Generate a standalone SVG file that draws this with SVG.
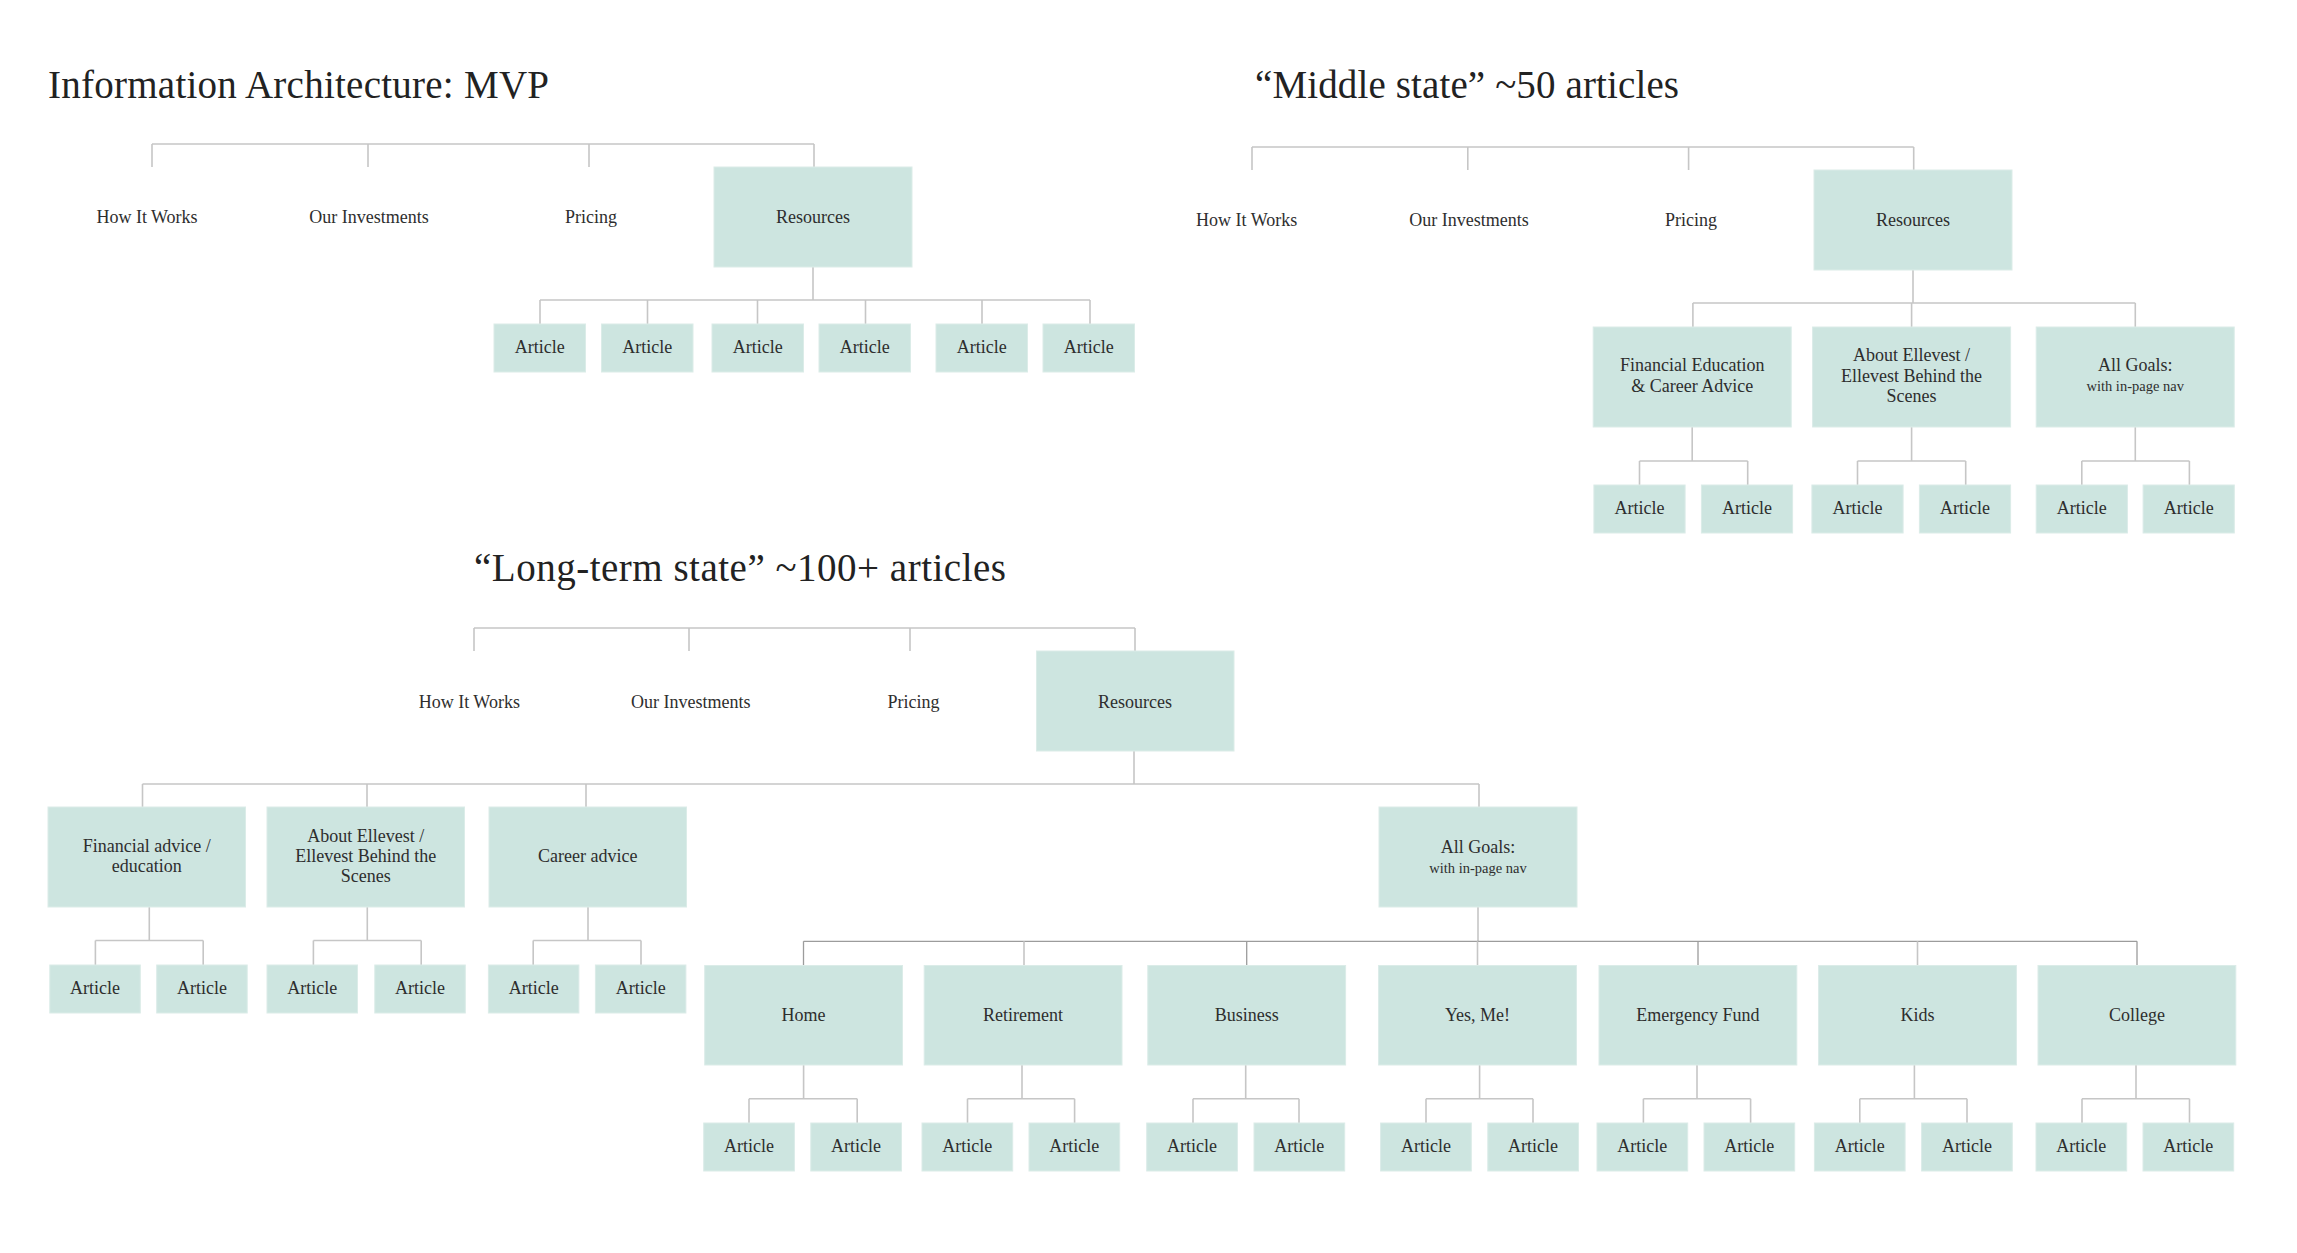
<svg xmlns="http://www.w3.org/2000/svg" width="2297" height="1253" viewBox="0 0 2297 1253">
<style>
.bg{fill:#ffffff}
.box{fill:#cde5e0;stroke:#dbece8;stroke-width:1}
.ln{fill:none;stroke:#c6c6c6;stroke-width:1.6}
.dk{fill:none;stroke:#9c9c9c;stroke-width:1.3}
.t{font-family:"Liberation Serif","Times New Roman",serif;font-size:18px;fill:#2e2e2e;text-anchor:middle}
.sm{font-size:14.5px}
.title{font-family:"Liberation Serif","Times New Roman",serif;font-size:39px;fill:#222222}
</style>
<rect class="bg" x="0" y="0" width="2297" height="1253"/>

<g id="titles">
<text class="title" x="48" y="98" textLength="501">Information Architecture: MVP</text>
<text class="title" x="1255" y="98" textLength="424">“Middle state” ~50 articles</text>
<text class="title" x="474" y="581" textLength="532">“Long-term state” ~100+ articles</text>
</g>

<g id="connectors">
<!-- MVP -->
<path class="ln" d="M152,144 H814 M152,144 V167 M368,144 V167 M589,144 V167 M814,144 V167"/>
<path class="ln" d="M813,267 V300 M540,300 H1090 M540,300 V324 M647.5,300 V324 M757.5,300 V324 M865.5,300 V324 M982,300 V324 M1090,300 V324"/>
<!-- Middle -->
<path class="ln" d="M1252,147 H1913.7 M1252,147 V170 M1467.8,147 V170 M1688.6,147 V170 M1913.7,147 V170"/>
<path class="ln" d="M1913,270 V303 M1692.9,303 H2135.3 M1692.9,303 V327 M1911.6,303 V327 M2135.3,303 V327"/>
<path class="ln" d="M1692.2,427 V461 M1639.5,461 H1747.7 M1639.5,461 V485 M1747.7,461 V485"/>
<path class="ln" d="M1911.6,427 V461 M1857.5,461 H1965.7 M1857.5,461 V485 M1965.7,461 V485"/>
<path class="ln" d="M2135.3,427 V461 M2081.8,461 H2189.4 M2081.8,461 V485 M2189.4,461 V485"/>
<!-- Long-term -->
<path class="ln" d="M474,628 H1135 M474,628 V651 M689,628 V651 M910,628 V651 M1135,628 V651"/>
<path class="ln" d="M1134,751 V784 M142.5,784 H1479 M142.5,784 V807 M367,784 V807 M586,784 V807 M1479,784 V807"/>
<path class="ln" d="M149.3,907 V940.5 M95.4,940.5 H203.2 M95.4,940.5 V965 M203.2,940.5 V965"/>
<path class="ln" d="M367.3,907 V940.5 M313.4,940.5 H421.2 M313.4,940.5 V965 M421.2,940.5 V965"/>
<path class="ln" d="M588,907 V940.5 M533.2,940.5 H641 M533.2,940.5 V965 M641,940.5 V965"/>
<path class="ln" d="M1478,907 V941.3"/>
<path class="dk" d="M803.5,941.3 H2137 M803.5,941.3 V965.5 M1246.7,941.3 V965.5 M1698,941.3 V965.5 M2137,941.3 V965.5"/>
<path class="ln" d="M1024,941.3 V965.5 M1477.5,941.3 V965.5 M1917.5,941.3 V965.5"/>
<path class="ln" d="M803.6,1065 V1098.7 M749,1098.7 H857.2 M749,1098.7 V1123 M857.2,1098.7 V1123"/>
<path class="ln" d="M1022,1065 V1098.7 M967.5,1098.7 H1074.6 M967.5,1098.7 V1123 M1074.6,1098.7 V1123"/>
<path class="ln" d="M1245.7,1065 V1098.7 M1193,1098.7 H1299 M1193,1098.7 V1123 M1299,1098.7 V1123"/>
<path class="ln" d="M1479.6,1065 V1098.7 M1426,1098.7 H1533 M1426,1098.7 V1123 M1533,1098.7 V1123"/>
<path class="ln" d="M1697,1065 V1098.7 M1643.4,1098.7 H1750.6 M1643.4,1098.7 V1123 M1750.6,1098.7 V1123"/>
<path class="ln" d="M1914.4,1065 V1098.7 M1859.8,1098.7 H1967 M1859.8,1098.7 V1123 M1967,1098.7 V1123"/>
<path class="ln" d="M2136,1065 V1098.7 M2082,1098.7 H2189.5 M2082,1098.7 V1123 M2189.5,1098.7 V1123"/>
</g>

<!-- ===== MVP ===== -->
<g id="mvp-how"><text class="t" x="147" y="223">How It Works</text></g>
<g id="mvp-inv"><text class="t" x="369" y="223">Our Investments</text></g>
<g id="mvp-pricing"><text class="t" x="591" y="223">Pricing</text></g>
<g id="mvp-resources"><rect class="box" x="714" y="167" width="198" height="100"/><text class="t" x="813" y="223">Resources</text></g>
<g id="mvp-a1"><rect class="box" x="494" y="324" width="91.5" height="48"/><text class="t" x="539.7" y="353">Article</text></g>
<g id="mvp-a2"><rect class="box" x="601.5" y="324" width="91.5" height="48"/><text class="t" x="647.2" y="353">Article</text></g>
<g id="mvp-a3"><rect class="box" x="712" y="324" width="91.5" height="48"/><text class="t" x="757.7" y="353">Article</text></g>
<g id="mvp-a4"><rect class="box" x="819" y="324" width="91.5" height="48"/><text class="t" x="864.7" y="353">Article</text></g>
<g id="mvp-a5"><rect class="box" x="936" y="324" width="91.5" height="48"/><text class="t" x="981.7" y="353">Article</text></g>
<g id="mvp-a6"><rect class="box" x="1043" y="324" width="91.5" height="48"/><text class="t" x="1088.7" y="353">Article</text></g>

<!-- ===== Middle ===== -->
<g id="mid-how"><text class="t" x="1246.6" y="226">How It Works</text></g>
<g id="mid-inv"><text class="t" x="1468.9" y="226">Our Investments</text></g>
<g id="mid-pricing"><text class="t" x="1691.1" y="226">Pricing</text></g>
<g id="mid-resources"><rect class="box" x="1814" y="170" width="198" height="100"/><text class="t" x="1913" y="226">Resources</text></g>
<g id="mid-fin"><rect class="box" x="1593.2" y="327" width="198" height="100"/><text class="t" x="1692.2" y="371">Financial Education</text><text class="t" x="1692.2" y="391.5">&amp; Career Advice</text></g>
<g id="mid-about"><rect class="box" x="1812.6" y="327" width="198" height="100"/><text class="t" x="1911.6" y="361">About Ellevest /</text><text class="t" x="1911.6" y="381.5">Ellevest Behind the</text><text class="t" x="1911.6" y="402">Scenes</text></g>
<g id="mid-goals"><rect class="box" x="2036.2" y="327" width="198" height="100"/><text class="t" x="2135.2" y="371">All Goals:</text><text class="t sm" x="2135.2" y="391">with in-page nav</text></g>
<g id="mid-a1"><rect class="box" x="1593.9" y="485" width="91.2" height="48"/><text class="t" x="1639.5" y="514">Article</text></g>
<g id="mid-a2"><rect class="box" x="1701.4" y="485" width="91.2" height="48"/><text class="t" x="1747" y="514">Article</text></g>
<g id="mid-a3"><rect class="box" x="1811.9" y="485" width="91.2" height="48"/><text class="t" x="1857.5" y="514">Article</text></g>
<g id="mid-a4"><rect class="box" x="1919.4" y="485" width="91.2" height="48"/><text class="t" x="1965" y="514">Article</text></g>
<g id="mid-a5"><rect class="box" x="2036.2" y="485" width="91.2" height="48"/><text class="t" x="2081.8" y="514">Article</text></g>
<g id="mid-a6"><rect class="box" x="2143.1" y="485" width="91.2" height="48"/><text class="t" x="2188.7" y="514">Article</text></g>

<!-- ===== Long-term ===== -->
<g id="lt-how"><text class="t" x="469.3" y="707.5">How It Works</text></g>
<g id="lt-inv"><text class="t" x="690.7" y="707.5">Our Investments</text></g>
<g id="lt-pricing"><text class="t" x="913.4" y="707.5">Pricing</text></g>
<g id="lt-resources"><rect class="box" x="1036.5" y="651" width="197.5" height="100"/><text class="t" x="1135" y="707.5">Resources</text></g>
<g id="lt-fin"><rect class="box" x="48" y="807" width="197.5" height="100"/><text class="t" x="146.7" y="852">Financial advice /</text><text class="t" x="146.7" y="872">education</text></g>
<g id="lt-about"><rect class="box" x="267" y="807" width="197.5" height="100"/><text class="t" x="365.7" y="842">About Ellevest /</text><text class="t" x="365.7" y="862">Ellevest Behind the</text><text class="t" x="365.7" y="882">Scenes</text></g>
<g id="lt-career"><rect class="box" x="489" y="807" width="197.5" height="100"/><text class="t" x="587.7" y="862">Career advice</text></g>
<g id="lt-goals"><rect class="box" x="1379" y="807" width="198" height="100"/><text class="t" x="1478" y="852.5">All Goals:</text><text class="t sm" x="1478" y="872.5">with in-page nav</text></g>
<g id="lt-fa1"><rect class="box" x="49.8" y="965" width="90.5" height="48"/><text class="t" x="95" y="994">Article</text></g>
<g id="lt-fa2"><rect class="box" x="156.7" y="965" width="90.5" height="48"/><text class="t" x="202" y="994">Article</text></g>
<g id="lt-ab1"><rect class="box" x="267" y="965" width="90.5" height="48"/><text class="t" x="312.3" y="994">Article</text></g>
<g id="lt-ab2"><rect class="box" x="374.8" y="965" width="90.5" height="48"/><text class="t" x="420" y="994">Article</text></g>
<g id="lt-ca1"><rect class="box" x="488.4" y="965" width="90.5" height="48"/><text class="t" x="533.7" y="994">Article</text></g>
<g id="lt-ca2"><rect class="box" x="595.4" y="965" width="90.5" height="48"/><text class="t" x="640.7" y="994">Article</text></g>

<g id="lt-home"><rect class="box" x="704.7" y="965.5" width="197.8" height="99.5"/><text class="t" x="803.6" y="1021">Home</text></g>
<g id="lt-retirement"><rect class="box" x="924.2" y="965.5" width="197.8" height="99.5"/><text class="t" x="1023.1" y="1021">Retirement</text></g>
<g id="lt-business"><rect class="box" x="1147.8" y="965.5" width="197.8" height="99.5"/><text class="t" x="1246.7" y="1021">Business</text></g>
<g id="lt-yesme"><rect class="box" x="1378.6" y="965.5" width="197.8" height="99.5"/><text class="t" x="1477.5" y="1021">Yes, Me!</text></g>
<g id="lt-emergency"><rect class="box" x="1599" y="965.5" width="197.8" height="99.5"/><text class="t" x="1697.9" y="1021">Emergency Fund</text></g>
<g id="lt-kids"><rect class="box" x="1818.6" y="965.5" width="197.8" height="99.5"/><text class="t" x="1917.5" y="1021">Kids</text></g>
<g id="lt-college"><rect class="box" x="2038" y="965.5" width="197.8" height="99.5"/><text class="t" x="2136.9" y="1021">College</text></g>

<g id="lt-ho1"><rect class="box" x="703.7" y="1123" width="90.7" height="48"/><text class="t" x="749" y="1152">Article</text></g>
<g id="lt-ho2"><rect class="box" x="810.8" y="1123" width="90.7" height="48"/><text class="t" x="856.1" y="1152">Article</text></g>
<g id="lt-re1"><rect class="box" x="922" y="1123" width="90.7" height="48"/><text class="t" x="967.3" y="1152">Article</text></g>
<g id="lt-re2"><rect class="box" x="1029" y="1123" width="90.7" height="48"/><text class="t" x="1074.3" y="1152">Article</text></g>
<g id="lt-bu1"><rect class="box" x="1146.7" y="1123" width="90.7" height="48"/><text class="t" x="1192" y="1152">Article</text></g>
<g id="lt-bu2"><rect class="box" x="1254" y="1123" width="90.7" height="48"/><text class="t" x="1299.3" y="1152">Article</text></g>
<g id="lt-ye1"><rect class="box" x="1380.6" y="1123" width="90.7" height="48"/><text class="t" x="1425.9" y="1152">Article</text></g>
<g id="lt-ye2"><rect class="box" x="1487.8" y="1123" width="90.7" height="48"/><text class="t" x="1533.1" y="1152">Article</text></g>
<g id="lt-em1"><rect class="box" x="1597" y="1123" width="90.7" height="48"/><text class="t" x="1642.3" y="1152">Article</text></g>
<g id="lt-em2"><rect class="box" x="1704" y="1123" width="90.7" height="48"/><text class="t" x="1749.3" y="1152">Article</text></g>
<g id="lt-ki1"><rect class="box" x="1814.4" y="1123" width="90.7" height="48"/><text class="t" x="1859.7" y="1152">Article</text></g>
<g id="lt-ki2"><rect class="box" x="1921.6" y="1123" width="90.7" height="48"/><text class="t" x="1966.9" y="1152">Article</text></g>
<g id="lt-co1"><rect class="box" x="2036" y="1123" width="90.7" height="48"/><text class="t" x="2081.3" y="1152">Article</text></g>
<g id="lt-co2"><rect class="box" x="2143" y="1123" width="90.7" height="48"/><text class="t" x="2188.3" y="1152">Article</text></g>
</svg>
